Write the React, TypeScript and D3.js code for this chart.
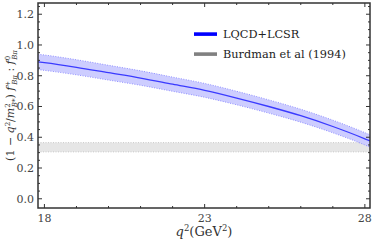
import React from 'react';
import * as d3 from 'd3';

// central value of the LQCD+LCSR ratio vs q^2
const q2Values = [17.8, 18, 19, 20, 21, 22, 23, 24, 25, 26, 27, 28, 28.16];
const centralValues = [0.89, 0.885, 0.855, 0.82, 0.785, 0.745, 0.705, 0.655, 0.6, 0.54, 0.47, 0.39, 0.376];
const halfWidths = [0.05, 0.05, 0.049, 0.048, 0.047, 0.046, 0.045, 0.044, 0.043, 0.042, 0.041, 0.04, 0.04];

// Burdman et al (1994) band
const burdmanLow = 0.305;
const burdmanHigh = 0.365;

const xMajorTicks = [18, 23, 28];
const yMajorTicks = [0, 0.2, 0.4, 0.6, 0.8, 1.0, 1.2];

const legendItems = [
  { label: 'LQCD+LCSR', color: '#0000ff' },
  { label: 'Burdman et al (1994)', color: '#808080' },
];

const width = 374;
const height = 247;
const margin = { left: 38, top: 3, right: 4, bottom: 39 };
const font = 'DejaVu Serif, Liberation Serif, serif';

type Pt = { q: number; c: number; h: number };

export default function App() {
  const x = d3.scaleLinear().domain([17.8, 28.16]).range([margin.left, width - margin.right]);
  const y = d3.scaleLinear().domain([-0.06, 1.273]).range([height - margin.bottom, margin.top]);

  const pts: Pt[] = q2Values.map((q, i) => ({ q, c: centralValues[i], h: halfWidths[i] }));

  const line = d3.line<Pt>().x((d) => x(d.q)).y((d) => y(d.c)).curve(d3.curveMonotoneX);
  const upper = d3.line<Pt>().x((d) => x(d.q)).y((d) => y(d.c + d.h)).curve(d3.curveMonotoneX);
  const lower = d3.line<Pt>().x((d) => x(d.q)).y((d) => y(d.c - d.h)).curve(d3.curveMonotoneX);
  const area = d3
    .area<Pt>()
    .x((d) => x(d.q))
    .y0((d) => y(d.c - d.h))
    .y1((d) => y(d.c + d.h))
    .curve(d3.curveMonotoneX);

  const [x0, x1] = x.range();
  const [y0, y1] = y.range();

  const xMinor = d3.range(18, 29, 1);
  const yMinor = d3.range(0, 1.26, 0.05);

  return (
    <svg width={width} height={height} style={{ position: 'absolute', left: 0, top: 0 }}>
      <rect width={width} height={height} fill="#fff" />
      <defs>
        <clipPath id="plot">
          <rect x={x0} y={y1} width={x1 - x0} height={y0 - y1} />
        </clipPath>
      </defs>

      <g clipPath="url(#plot)">
        <rect x={x0} y={y(burdmanHigh)} width={x1 - x0} height={y(burdmanLow) - y(burdmanHigh)} fill="#e6e6e6" />
        <line x1={x0} x2={x1} y1={y(burdmanHigh)} y2={y(burdmanHigh)} stroke="#c8c8c8" strokeDasharray="1,1.5" />
        <line x1={x0} x2={x1} y1={y(burdmanLow)} y2={y(burdmanLow)} stroke="#c8c8c8" strokeDasharray="1,1.5" />

        <path d={area(pts) ?? ''} fill="#cdcdff" />
        <path d={upper(pts) ?? ''} fill="none" stroke="#9090ff" strokeWidth={1} strokeDasharray="1,1.5" />
        <path d={lower(pts) ?? ''} fill="none" stroke="#9090ff" strokeWidth={1} strokeDasharray="1,1.5" />
        <path d={line(pts) ?? ''} fill="none" stroke="#3a3aff" strokeWidth={1.3} />
      </g>

      {/* ticks, all four sides, pointing in */}
      <g stroke="#333" strokeWidth={1}>
        {xMinor.map((t) => {
          const len = xMajorTicks.includes(t) ? 4 : 2;
          return (
            <g key={'x' + t}>
              <line x1={x(t)} x2={x(t)} y1={y0} y2={y0 - len} />
              <line x1={x(t)} x2={x(t)} y1={y1} y2={y1 + len} />
            </g>
          );
        })}
        {yMinor.map((t) => {
          const len = yMajorTicks.some((m) => Math.abs(m - t) < 1e-6) ? 4 : 2;
          return (
            <g key={'y' + t}>
              <line x1={x0} x2={x0 + len} y1={y(t)} y2={y(t)} />
              <line x1={x1} x2={x1 - len} y1={y(t)} y2={y(t)} />
            </g>
          );
        })}
      </g>

      <rect x={x0} y={y1} width={x1 - x0} height={y0 - y1} fill="none" stroke="#333" strokeWidth={1.5} />

      <g fontFamily={font} fontSize={11} fill="#444">
        {xMajorTicks.map((t) => (
          <text key={t} x={x(t)} y={y0 + 14} textAnchor="middle">
            {t}
          </text>
        ))}
        {yMajorTicks.map((t) => (
          <text key={t} x={x0 - 4} y={y(t) + 4} textAnchor="end">
            {t.toFixed(1)}
          </text>
        ))}
      </g>

      {/* legend */}
      <g fontFamily={font} fontSize={11.3} fill="#222">
        {legendItems.map((d, i) => (
          <g key={d.label}>
            <rect x={194} y={32.3 + i * 20} width={23} height={3.6} fill={d.color} />
            <text x={223} y={38.2 + i * 20}>
              {d.label}
            </text>
          </g>
        ))}
      </g>

      {/* x label */}
      <text x={(x0 + x1) / 2} y={236} textAnchor="middle" fontFamily={font} fontSize={13} fill="#333">
        <tspan fontStyle="italic">q</tspan>
        <tspan dy={-5} fontSize={8.5}>2</tspan>
        <tspan dy={5}>(GeV</tspan>
        <tspan dy={-5} fontSize={8.5}>2</tspan>
        <tspan dy={5}>)</tspan>
      </text>

      {/* y label */}
      <text
        transform={`translate(14,${(y0 + y1) / 2}) rotate(-90)`}
        textAnchor="middle"
        fontFamily={font}
        fontSize={11}
        fill="#333"
      >
        <tspan>(1 − </tspan>
        <tspan fontStyle="italic">q</tspan>
        <tspan dy={-4.5} fontSize={7}>2</tspan>
        <tspan dy={4.5}>/</tspan>
        <tspan fontStyle="italic">m</tspan>
        <tspan dy={-4.5} fontSize={7}>2</tspan>
        <tspan dy={7} dx={-4} fontSize={7} fontStyle="italic">B*</tspan>
        <tspan dy={-2.5}>) </tspan>
        <tspan fontStyle="italic">f</tspan>
        <tspan dy={-4.5} fontSize={7}>+</tspan>
        <tspan dy={7} dx={-4} fontSize={7} fontStyle="italic">Bπ</tspan>
        <tspan dy={-2.5}> : </tspan>
        <tspan fontStyle="italic">f</tspan>
        <tspan dy={-4.5} fontSize={7}>0</tspan>
        <tspan dy={7} dx={-4} fontSize={7} fontStyle="italic">Bπ</tspan>
      </text>
    </svg>
  );
}
